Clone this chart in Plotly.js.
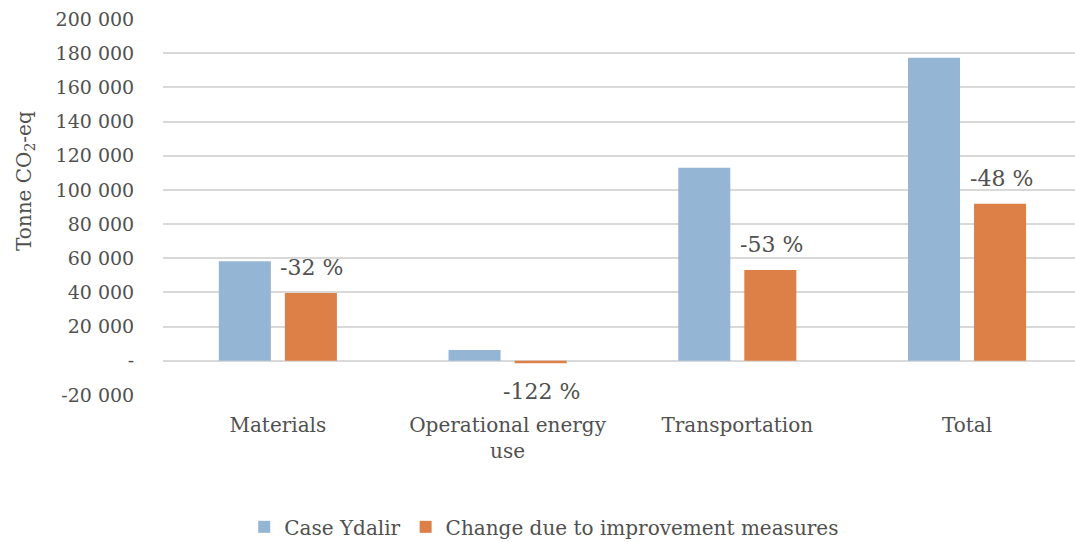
<!DOCTYPE html>
<html>
<head>
<meta charset="utf-8">
<script src="https://cdn.plot.ly/plotly-3.0.1.min.js"></script>
<style>html,body{margin:0;padding:0;background:#fff;}#chart{width:1075px;height:542px;}</style>
</head>
<body>
<div id="chart"></div>
<script>
const categories = ["Materials", "Operational energy<br>use", "Transportation", "Total"];
const caseYdalir = [58300, 6400, 112900, 177300];
const improved = [39700, -1400, 53200, 91900];
const changeLabels = ["-32 %", "-122 %", "-53 %", "-48 %"];
const yTickVals = [-20000, 0, 20000, 40000, 60000, 80000, 100000, 120000, 140000, 160000, 180000, 200000];

function fmt(v) {
  if (v === 0) return "-";
  const s = Math.abs(v).toString().replace(/\B(?=(\d{3})+(?!\d))/g, " ");
  return (v < 0 ? "-" : "") + s;
}
const yTickText = yTickVals.map(fmt);

const fontFam = "DejaVu Serif, serif";
const txtColor = "#505050";

const traces = [
  {
    type: "bar", name: "Case Ydalir", x: categories, y: caseYdalir,
    marker: {color: "#95b5d4"}, hoverinfo: "skip"
  },
  {
    type: "bar", name: "Change due to improvement measures", x: categories, y: improved,
    marker: {color: "#dd8047"}, hoverinfo: "skip"
  }
];

const annotations = categories.map((c, i) => ({
  x: c, y: improved[i], xref: "x", yref: "y",
  text: changeLabels[i], showarrow: false,
  xshift: 34, yshift: improved[i] >= 0 ? 25 : -28,
  font: {family: fontFam, size: 22, color: txtColor}
}));
annotations.push({
  text: "Tonne CO<sub>2</sub>-eq", textangle: -90, showarrow: false,
  xref: "paper", yref: "paper", x: -0.152, y: 0.57, xanchor: "center", yanchor: "middle",
  font: {family: fontFam, size: 20, color: txtColor}
});

const layout = {
  width: 1075, height: 542,
  margin: {l: 163, r: 0, t: 19, b: 147},
  paper_bgcolor: "#fff", plot_bgcolor: "#fff",
  font: {family: fontFam, size: 20, color: txtColor},
  bargap: 0.425, bargroupgap: 0.212,
  showlegend: true,
  legend: {
    orientation: "h", x: 0.418, xref: "paper", xanchor: "center",
    y: 0.028, yref: "container", yanchor: "middle",
    font: {family: fontFam, size: 20, color: txtColor},
    itemwidth: 30, traceorder: "normal"
  },
  xaxis: {
    type: "category", range: [-0.5, 3.47],
    showgrid: false, zeroline: false, showline: false,
    ticks: "outside", ticklen: 12, tickcolor: "rgba(0,0,0,0)",
    tickfont: {family: fontFam, size: 20, color: txtColor}
  },
  yaxis: {
    range: [-20000, 200000],
    tickvals: yTickVals, ticktext: yTickText,
    showgrid: true, gridcolor: "#d9d9d9", gridwidth: 2,
    zeroline: true, zerolinecolor: "#d9d9d9", zerolinewidth: 2,
    showline: false,
    ticks: "outside", ticklen: 24, tickcolor: "rgba(0,0,0,0)",
    tickfont: {family: fontFam, size: 19, color: txtColor}
  },
  annotations: annotations
};

Plotly.newPlot("chart", traces, layout, {displayModeBar: false, staticPlot: true});
</script>
</body>
</html>
